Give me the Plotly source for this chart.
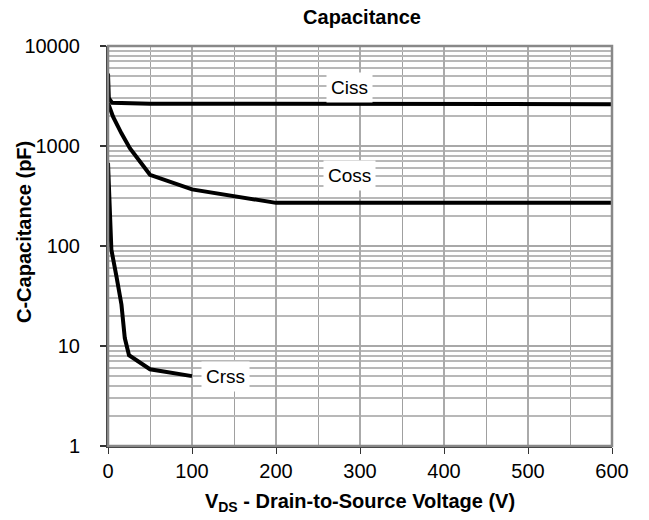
import math
import plotly.graph_objects as go

ciss_v = [0, 1, 5, 50, 600]
ciss_c = [5300, 3000, 2700, 2650, 2620]

coss_v = [0, 6, 16, 26, 50, 100, 200, 600]
coss_c = [2700, 1960, 1340, 950, 515, 368, 270, 270]

crss_v = [0, 1, 4, 10, 16, 20, 25, 50, 100]
crss_c = [680, 400, 92, 50, 26, 12, 8.1, 5.85, 5.0]

x_ticks = [0, 100, 200, 300, 400, 500, 600]
y_ticks = [1, 10, 100, 1000, 10000]
y_minor = [m * d for d in [1, 10, 100, 1000] for m in range(2, 10)]

label_text = ["Ciss", "Coss", "Crss"]
label_v = [288, 287, 140]
label_c = [3830, 505, 4.9]

FONT = "Liberation Sans, Arial, sans-serif"
W, H = 641, 512
ML, MR, MT, MB = 100, 37, 38, 74

fig = go.Figure()
line = dict(color="black", width=4)
for v, c in [(ciss_v, ciss_c), (coss_v, coss_c), (crss_v, crss_c)]:
    fig.add_trace(go.Scatter(x=v, y=c, mode="lines", line=line, showlegend=False))

for t, x, y in zip(label_text, label_v, label_c):
    fig.add_annotation(x=x, y=math.log10(y), xref="x", yref="y", text=t, showarrow=False,
                       bgcolor="white", font=dict(size=19, color="black", family=FONT),
                       borderpad=4)

fig.add_annotation(
    x=(24 - 8 - ML) / (W - ML - MR), y=(H - MB - (232 - 8)) / (H - MT - MB),
    xref="paper", yref="paper", xanchor="center", yanchor="middle",
    text="<b>C-Capacitance (pF)</b>", textangle=-90, showarrow=False,
    font=dict(size=20, color="black", family=FONT))

fig.add_shape(type="rect", xref="paper", yref="paper", x0=0, y0=0, x1=1, y1=1,
              line=dict(color="#888888", width=2.5), layer="above")

fig.update_layout(
    width=W, height=H,
    margin=dict(l=ML, r=MR, t=MT, b=MB),
    paper_bgcolor="white", plot_bgcolor="white",
    font=dict(family=FONT, size=20, color="black"),
    title=dict(text="<b>Capacitance</b>", x=(362 - 8) / W, xanchor="center",
               xref="container", y=1, yref="container",
               yanchor="top", pad=dict(t=2), font=dict(size=20)),
)
fig.update_xaxes(
    range=[0, 600], tickvals=x_ticks, ticks="outside", ticklen=6, tickcolor="#333",
    showline=True, linecolor="#333333", linewidth=2,
    showgrid=True, gridcolor="#aaaaaa", gridwidth=1.5, zeroline=False,
    minor=dict(dtick=50, tick0=0, showgrid=True, gridcolor="#a0a0a0", gridwidth=1),
    title=dict(text="<b>V<sub>DS</sub> - Drain-to-Source Voltage (V)</b>",
               font=dict(size=20), standoff=13),
    tickfont=dict(size=20),
)
fig.update_yaxes(
    type="log", range=[0, 4], tickvals=y_ticks, ticktext=[str(t) for t in y_ticks],
    ticks="outside", ticklen=6, tickcolor="#333", tickwidth=1.5, ticklabelstandoff=16,
    showline=True, linecolor="#333333", linewidth=2,
    showgrid=True, gridcolor="#a8a8a8", gridwidth=1.5, zeroline=False,
    minor=dict(tickvals=y_minor, showgrid=True, gridcolor="#b8b8b8", gridwidth=1.5),
    tickfont=dict(size=20),
)

fig.write_html("out.html")
